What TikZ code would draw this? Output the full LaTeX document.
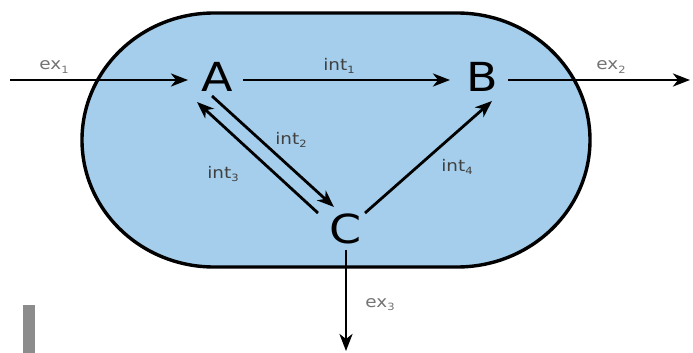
\documentclass[tikz,border=0pt]{standalone}
\usepackage{fontspec}
\setmainfont{DejaVu Sans}
\usetikzlibrary{arrows.meta}
\definecolor{cellblue}{RGB}{164,206,235}
\newcommand\sbs[1]{\raisebox{-0.35ex}{\fontsize{10pt}{10pt}\selectfont #1}}
\newcommand\wide[1]{\scalebox{1.15}[1]{#1}}
\tikzset{
  flow/.style={line width=2.8pt, -{Stealth[length=17pt,width=13pt,inset=5pt]}},
  letter/.style={inner sep=0pt, font=\fontsize{40pt}{40pt}\selectfont},
  lab/.style={inner sep=0pt, font=\fontsize{16pt}{16pt}\selectfont, text=black!75},
  exlab/.style={lab, text=black!55}
}
\begin{document}
\begin{tikzpicture}[x=1pt,y=-1pt]
\useasboundingbox (0,0) rectangle (693,353);
% cell
\draw[line width=3.4pt, fill=cellblue] (214,13) -- (457,13)
  arc[start angle=90, end angle=-90, x radius=133pt, y radius=127pt]
  -- (214,267)
  arc[start angle=270, end angle=90, x radius=132pt, y radius=127pt] -- cycle;
% artifact bar
\fill[black!45] (23,305) rectangle (35,353);
% nodes
\node[letter] (A) at (217,77) {\wide{A}};
\node[letter] (B) at (482,77) {\wide{B}};
\node[letter] (C) at (346,229) {\wide{C}};
\coordinate (e1) at (10,80);
\coordinate (e2) at (690,80);
\coordinate (e3) at (346,351);
% connectors
\draw[flow] (e1) -- ([shift={(-29,3)}]A.center);
\draw[flow] ([shift={(26,3)}]A.center) -- ([shift={(-32,3)}]B.center);
\draw[flow] ([shift={(26,3)}]B.center) -- (e2);
\draw[flow] ([shift={(-5,19)}]A.center) -- ([shift={(-12,-22)}]C.center);
\draw[flow] ([shift={(-28,-16)}]C.center) -- ([shift={(-20,25)}]A.center);
\draw[flow] ([shift={(19,-16)}]C.center) -- ([shift={(10,24)}]B.center);
\draw[flow] ([shift={(0,21)}]C.center) -- (e3);
% labels
\node[exlab] (l1) at (54,67) {\wide{ex\sbs{1}}};
\node[lab] (l2) at (339,66) {\wide{int\sbs{1}}};
\node[exlab] (l3) at (611,67) {\wide{ex\sbs{2}}};
\node[lab] (l4) at (291,140) {\wide{int\sbs{2}}};
\node[lab] (l5) at (223,174) {\wide{int\sbs{3}}};
\node[lab] (l6) at (457,167) {\wide{int\sbs{4}}};
\node[exlab] (l7) at (380,305) {\wide{ex\sbs{3}}};
\end{tikzpicture}
\end{document}
